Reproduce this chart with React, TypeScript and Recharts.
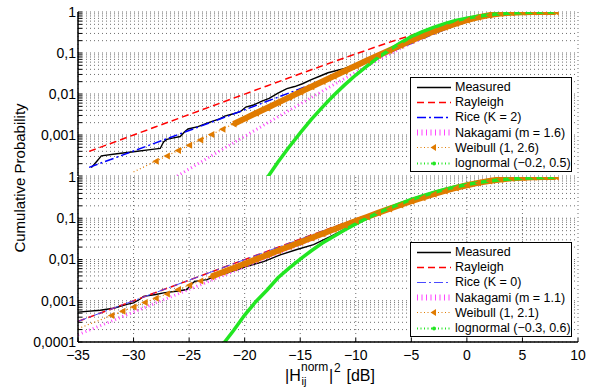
import React from 'react';
import { LineChart, Line, XAxis, YAxis, CartesianGrid, Legend } from 'recharts';

const FONT = '"Liberation Sans", Arial, Helvetica, sans-serif';

// axes
const xTicks = [-35, -30, -25, -20, -15, -10, -5, 0, 5, 10];
const yDecades = [0.0001, 0.001, 0.01, 0.1];
const yTicks = [
  ...yDecades.flatMap((d) => [1, 2, 3, 4, 5, 6, 7, 8, 9].map((m) => Number((m * d).toPrecision(3)))),
  1,
];

// ---- upper panel ----
const topMeasuredDb = [-33.8, -33.3, -32.9, -31.5, -30, -28.5, -27.6, -27.3, -27.0, -26.5, -25.8, -25.4, -25.1, -24.2, -23.5, -22.8, -22.2, -21.8, -21.0, -20.4, -19.9, -19.2, -18.5, -17.8, -17.0, -16.2, -15.5, -14.8, -14.0, -13.2, -12.5, -11.8, -11.0, -10.3, -9.6, -8.8, -8, -7, -6, -5, -4, -3, -2, -1, 0, 1, 2, 3, 4, 5, 6, 7, 8];
const topMeasuredP = [1.6e-4, 2.3e-4, 3.1e-4, 3.5e-4, 3.9e-4, 4.4e-4, 4.7e-4, 6.8e-4, 7.8e-4, 8.4e-4, 9.2e-4, 1.2e-3, 1.4e-3, 1.6e-3, 1.9e-3, 2.2e-3, 2.5e-3, 2.9e-3, 3.3e-3, 3.7e-3, 4.8e-3, 5.4e-3, 6.6e-3, 7.8e-3, 0.0105, 0.0135, 0.0152, 0.0178, 0.0225, 0.0275, 0.033, 0.037, 0.042, 0.05, 0.058, 0.07, 0.085, 0.11, 0.15, 0.2, 0.27, 0.35, 0.44, 0.55, 0.65, 0.75, 0.84, 0.9, 0.95, 0.98, 0.99, 0.997, 1];

const topRayleighDb = [-34, -32, -30, -28, -26, -24, -22, -20, -18, -16, -14, -12, -10, -9, -8, -7, -6, -5, -4, -3, -2, -1, 0, 1, 2, 3, 4, 5, 6, 7, 8];
const topRayleighP = [3.98e-4, 6.31e-4, 1.0e-3, 1.585e-3, 2.51e-3, 3.97e-3, 6.29e-3, 9.95e-3, 0.01572, 0.0248, 0.0391, 0.0612, 0.0952, 0.118, 0.1466, 0.1815, 0.222, 0.2711, 0.3282, 0.3934, 0.4673, 0.5491, 0.6321, 0.7161, 0.7953, 0.8647, 0.9198, 0.9578, 0.9812, 0.9933, 0.9981];

const topRiceDb = [-34, -30, -25, -20, -15, -10, -7.5, -5, -2.5, 0, 2.5, 5, 7.5, 8];
const topRiceP = [1.62e-4, 4.06e-4, 1.29e-3, 4.12e-3, 0.0134, 0.0461, 0.0881, 0.1717, 0.3304, 0.5853, 0.8569, 0.9857, 0.9995, 0.9998];

const topNakagamiDb = [-27, -26, -25, -24, -23, -22, -21, -20, -19, -18, -17, -16, -15, -14, -13, -12, -11, -10, -9, -8, -7, -6, -5, -4, -3, -2, -1, 0, 1, 2, 3, 4, 5, 6, 7, 8];
const topNakagamiP = [7.1e-5, 1.03e-4, 1.48e-4, 2.15e-4, 3.1e-4, 4.49e-4, 6.48e-4, 9.28e-4, 1.338e-3, 1.93e-3, 2.77e-3, 3.99e-3, 5.73e-3, 8.22e-3, 0.01176, 0.01678, 0.02386, 0.03383, 0.0477, 0.0668, 0.0928, 0.1278, 0.1739, 0.2331, 0.3065, 0.3949, 0.4963, 0.605, 0.7136, 0.8125, 0.893, 0.947, 0.978, 0.993, 0.998, 0.9996];

const topWeibullDb = [-30, -29, -28, -27, -26, -25, -24, -23, -22, -21, -20, -19, -18, -17, -16, -15, -14, -13, -12, -11, -10, -9, -8, -7, -6, -5, -4, -3, -2, -1, 0, 1, 2, 3, 4, 5, 6, 7, 8];
const topWeibullP = [1.26e-4, 1.7e-4, 2.29e-4, 3.09e-4, 4.17e-4, 5.62e-4, 7.59e-4, 1.023e-3, 1.38e-3, 1.86e-3, 2.51e-3, 3.39e-3, 4.57e-3, 6.15e-3, 8.28e-3, 0.01116, 0.01503, 0.0202, 0.0272, 0.0365, 0.0489, 0.0654, 0.0872, 0.1157, 0.153, 0.201, 0.261, 0.335, 0.423, 0.523, 0.632, 0.74, 0.838, 0.914, 0.964, 0.9885, 0.9976, 0.9997, 1];

const topLognormalDb = [-18, -17, -16, -15, -14, -13, -12, -11, -10, -9, -8, -7, -6, -5, -4, -3, -2, -1, 0, 1, 2, 3, 4, 5, 6, 7, 8];
const topLognormalP = [8.8e-5, 2.2e-4, 5.1e-4, 1.13e-3, 2.4e-3, 4.8e-3, 9.2e-3, 0.0167, 0.029, 0.048, 0.077, 0.118, 0.175, 0.25, 0.33, 0.42, 0.52, 0.62, 0.71, 0.79, 0.86, 0.91, 0.945, 0.97, 0.985, 0.993, 0.997];

// ---- lower panel ----
const botMeasuredDb = [-35, -33, -31.8, -30.6, -30, -29.4, -29.1, -28, -27.3, -26, -25.2, -24.8, -24.5, -23.4, -22.5, -21.6, -20.7, -19.8, -18.3, -16.8, -15.3, -13.8, -12.3, -10.8, -9.3, -7.8, -6, -4, -2, 0, 2, 4, 6, 8];
const botMeasuredP = [5.3e-4, 5.9e-4, 6.6e-4, 8.2e-4, 8.9e-4, 1.1e-3, 1.28e-3, 1.42e-3, 1.55e-3, 1.72e-3, 1.87e-3, 2.5e-3, 2.95e-3, 3.25e-3, 4.0e-3, 4.7e-3, 5.6e-3, 6.8e-3, 8.9e-3, 0.013, 0.0175, 0.023, 0.036, 0.058, 0.095, 0.145, 0.215, 0.31, 0.45, 0.62, 0.79, 0.92, 0.98, 1];

// Rice with K = 0 is the Rayleigh curve, both are drawn from these
const botRayleighDb = [-35, -34, -32, -30, -28, -26, -24, -22, -20, -18, -16, -14, -12, -10, -9, -8, -7, -6, -5, -4, -3, -2, -1, 0, 1, 2, 3, 4, 5, 6, 7, 8];
const botRayleighP = [3.16e-4, 3.98e-4, 6.31e-4, 1.0e-3, 1.585e-3, 2.51e-3, 3.97e-3, 6.29e-3, 9.95e-3, 0.01572, 0.0248, 0.0391, 0.0612, 0.0952, 0.118, 0.1466, 0.1815, 0.222, 0.2711, 0.3282, 0.3934, 0.4673, 0.5491, 0.6321, 0.7161, 0.7953, 0.8647, 0.9198, 0.9578, 0.9812, 0.9933, 0.9981];

const botNakagamiDb = [-35, -34, -32, -30, -28, -26, -24, -22, -20, -18, -16, -14, -12, -10, -8, -6, -4, -2, 0, 2, 4, 6, 8];
const botNakagamiP = [1.5e-4, 1.93e-4, 3.2e-4, 5.32e-4, 8.83e-4, 1.462e-3, 2.425e-3, 4.02e-3, 6.657e-3, 0.01101, 0.01818, 0.02991, 0.04898, 0.07959, 0.1278, 0.2015, 0.3086, 0.4532, 0.626, 0.7976, 0.9228, 0.984, 0.9988];

const botWeibullDb = [-35, -34, -33, -32, -31, -30, -29, -28, -27, -26, -25, -24, -23, -22, -21, -20, -19, -18, -17, -16, -15, -14, -13, -12, -11, -10, -9, -8, -7, -6, -5, -4, -3, -2, -1, 0, 1, 2, 3, 4, 5, 6, 7, 8];
const botWeibullP = [2.11e-4, 2.69e-4, 3.43e-4, 4.37e-4, 5.56e-4, 7.08e-4, 9.02e-4, 1.148e-3, 1.462e-3, 1.861e-3, 2.371e-3, 3.015e-3, 3.839e-3, 4.89e-3, 6.218e-3, 7.91e-3, 0.01007, 0.0128, 0.01627, 0.0207, 0.02625, 0.0333, 0.04223, 0.0535, 0.0676, 0.0852, 0.1073, 0.1346, 0.1681, 0.209, 0.258, 0.316, 0.3838, 0.4603, 0.5439, 0.632, 0.7203, 0.8025, 0.8732, 0.928, 0.9649, 0.986, 0.9956, 0.999];

const botLognormalDb = [-22, -21, -20, -19, -18, -17, -16, -15, -14, -13, -12, -11, -10, -9, -8, -7, -6, -5, -4, -3, -2, -1, 0, 1, 2, 3, 4, 5, 6, 7, 8];
const botLognormalP = [8.5e-5, 1.9e-4, 4.5e-4, 9.5e-4, 1.8e-3, 3.6e-3, 6.2e-3, 0.0102, 0.0163, 0.025, 0.036, 0.052, 0.073, 0.1, 0.135, 0.175, 0.225, 0.285, 0.35, 0.42, 0.5, 0.58, 0.66, 0.73, 0.8, 0.86, 0.9, 0.935, 0.96, 0.975, 0.985];

type Pt = { x: number; p: number };
const zip = (db: number[], p: number[]): Pt[] => db.map((x, i) => ({ x, p: p[i] }));

type Kind = 'measured' | 'rayleigh' | 'rice' | 'nakagami' | 'weibull' | 'lognormal';

interface Series {
  name: string;
  kind: Kind;
  data: Pt[];
  color?: string;
  width?: number;
  markFrom?: number;
  bandFrom?: number;
}

const ORANGE = '#e07b00';

const styles: Record<Kind, { stroke: string; strokeWidth: number; strokeDasharray?: string }> = {
  measured: { stroke: '#000000', strokeWidth: 1.4 },
  rayleigh: { stroke: '#ff0000', strokeWidth: 1.5, strokeDasharray: '7 4' },
  rice: { stroke: '#0000ff', strokeWidth: 1.5, strokeDasharray: '9 3 2 3' },
  nakagami: { stroke: '#ff44ff', strokeWidth: 3, strokeDasharray: '1 3' },
  weibull: { stroke: ORANGE, strokeWidth: 1.2, strokeDasharray: '1 2.5' },
  lognormal: { stroke: '#22e622', strokeWidth: 3.5 },
};

const topSeries: Series[] = [
  { name: 'Measured', kind: 'measured', data: zip(topMeasuredDb, topMeasuredP) },
  { name: 'Rayleigh', kind: 'rayleigh', data: zip(topRayleighDb, topRayleighP) },
  { name: 'Rice (K = 2)', kind: 'rice', data: zip(topRiceDb, topRiceP) },
  { name: 'Nakagami (m = 1.6)', kind: 'nakagami', data: zip(topNakagamiDb, topNakagamiP) },
  { name: 'Weibull (1, 2.6)', kind: 'weibull', data: zip(topWeibullDb, topWeibullP), markFrom: -28, bandFrom: -21 },
  { name: 'lognormal (\u22120.2, 0.5)', kind: 'lognormal', data: zip(topLognormalDb, topLognormalP) },
];

const bottomSeries: Series[] = [
  { name: 'Measured', kind: 'measured', data: zip(botMeasuredDb, botMeasuredP) },
  { name: 'Rayleigh', kind: 'rayleigh', data: zip(botRayleighDb, botRayleighP) },
  { name: 'Rice (K = 0)', kind: 'rice', data: zip(botRayleighDb, botRayleighP), color: '#4a4aff', width: 1 },
  { name: 'Nakagami (m = 1.1)', kind: 'nakagami', data: zip(botNakagamiDb, botNakagamiP) },
  { name: 'Weibull (1, 2.1)', kind: 'weibull', data: zip(botWeibullDb, botWeibullP), markFrom: -32, bandFrom: -23 },
  { name: 'lognormal (\u22120.3, 0.6)', kind: 'lognormal', data: zip(botLognormalDb, botLognormalP) },
];

const isDecade = (v: number) => Math.abs(Math.log10(v) - Math.round(Math.log10(v))) < 1e-6;
const yLabel = (v: number) => (isDecade(v) ? String(v).replace('.', ',') : '');
const xLabel = (v: number) => (v < 0 ? `\u2212${-v}` : String(v));

const triangle = (from: number) => (props: any) => {
  const { cx, cy, payload, index } = props;
  if (cx == null || cy == null || payload.x < from) return <g key={`t${index}`} />;
  return <path key={`t${index}`} d={`M${cx - 3.5},${cy} L${cx + 3},${cy - 3.5} L${cx + 3},${cy + 3.5} Z`} fill={ORANGE} />;
};

function Sample({ s }: { s: Series }) {
  const st = styles[s.kind];
  const stroke = s.color ?? st.stroke;
  return (
    <svg width={44} height={15} style={{ flex: 'none' }}>
      <line x1={6} x2={40} y1={7.5} y2={7.5} stroke={stroke}
        strokeWidth={s.kind === 'nakagami' ? 6 : Math.min(s.width ?? st.strokeWidth, 2)}
        strokeDasharray={s.kind === 'lognormal' ? '1 2.5' : s.kind === 'nakagami' ? '1 3.5' : st.strokeDasharray} />
      {s.kind === 'weibull' && <path d="M19.5,7.5 L25,4 L25,11 Z" fill={ORANGE} />}
      {s.kind === 'lognormal' && <circle cx={23} cy={7.5} r={2} fill={stroke} />}
    </svg>
  );
}

function LegendBox({ items }: { items: Series[] }) {
  return (
    <div style={{ width: 162, height: 95, boxSizing: 'border-box', border: '1.5px solid #000', background: '#fff', paddingTop: 2, fontFamily: FONT, fontSize: 12.5, color: '#000' }}>
      {items.map((it) => (
        <div key={it.name} style={{ display: 'flex', alignItems: 'center', height: 15.2, whiteSpace: 'nowrap' }}>
          <Sample s={it} />
          <span>{it.name}</span>
        </div>
      ))}
    </div>
  );
}

interface PanelProps {
  series: Series[];
  top: number;
  height: number;
  marginTop: number;
  xAxisHeight: number;
  legendTop: number;
  showXLabels: boolean;
  hideBottomYLabel: boolean;
}

function Panel({ series, top, height, marginTop, xAxisHeight, legendTop, showXLabels, hideBottomYLabel }: PanelProps) {
  const axisLine = { stroke: '#000', strokeWidth: 1.5 };
  const tickLine = { stroke: '#000', strokeWidth: 1 };
  return (
    <div style={{ position: 'absolute', left: 0, top }}>
      <LineChart width={589} height={height} margin={{ top: marginTop, right: 11, bottom: 0, left: 18 }}>
        <CartesianGrid stroke="#6e6e6e" strokeDasharray="1 3" strokeWidth={1} />
        <XAxis dataKey="x" type="number" domain={[-35, 10]} ticks={xTicks} interval={0} allowDataOverflow
          height={xAxisHeight} tickSize={-4} tickMargin={12} axisLine={axisLine} tickLine={tickLine}
          tick={showXLabels ? { fontSize: 14, fill: '#000' } : false} tickFormatter={xLabel} />
        <XAxis xAxisId="top" orientation="top" dataKey="x" type="number" domain={[-35, 10]} ticks={xTicks} interval={0}
          allowDataOverflow height={0} tickSize={-4} axisLine={axisLine} tickLine={tickLine} tick={false} />
        <YAxis type="number" scale="log" domain={[0.0001, 1]} ticks={yTicks} interval={0} allowDataOverflow width={60}
          tickSize={-4} tickMargin={6} axisLine={axisLine} tickLine={tickLine} tick={{ fontSize: 14, fill: '#000' }}
          tickFormatter={(v: number) => (hideBottomYLabel && v === 0.0001 ? '' : yLabel(v))} />
        <YAxis yAxisId="right" orientation="right" type="number" scale="log" domain={[0.0001, 1]} ticks={yTicks} interval={0}
          allowDataOverflow width={0} tickSize={-4} axisLine={axisLine} tickLine={tickLine} tick={false} />
        {series.flatMap((s) => {
          const st = styles[s.kind];
          const lines = [
            <Line key={s.name} data={s.data} dataKey="p" type="linear" isAnimationActive={false}
              stroke={s.color ?? st.stroke} strokeWidth={s.width ?? st.strokeWidth} strokeDasharray={st.strokeDasharray}
              dot={s.kind === 'weibull' ? triangle(s.markFrom ?? -99) : false} activeDot={false} legendType="none" />,
          ];
          if (s.kind === 'weibull' && s.bandFrom != null) {
            lines.push(
              <Line key={`${s.name}-band`} data={s.data.filter((d) => d.x >= (s.bandFrom as number))} dataKey="p" type="linear"
                isAnimationActive={false} stroke={ORANGE} strokeWidth={6} dot={false} activeDot={false} legendType="none" />
            );
          }
          return lines;
        })}
        <Legend layout="vertical" align="center" verticalAlign="middle"
          wrapperStyle={{ left: 410, top: legendTop, width: 162, height: 95 }}
          content={() => <LegendBox items={series} />} />
      </LineChart>
    </div>
  );
}

export default function App() {
  return (
    <div style={{ position: 'absolute', left: 0, top: 0, width: 589, height: 389, background: '#fff', fontFamily: FONT, overflow: 'hidden' }}>
      <Panel series={topSeries} top={0} height={176} marginTop={12} xAxisHeight={0} legendTop={76.5}
        showXLabels={false} hideBottomYLabel />
      <Panel series={bottomSeries} top={160} height={229} marginTop={17} xAxisHeight={47} legendTop={81.5}
        showXLabels hideBottomYLabel={false} />
      <svg width={589} height={389} style={{ position: 'absolute', left: 0, top: 0, pointerEvents: 'none' }}>
        <text transform="translate(25,178) rotate(-90)" textAnchor="middle" fontSize={15} fill="#000" fontFamily={FONT}>
          Cumulative Probability
        </text>
        <text fontSize={16} fill="#000" fontFamily={FONT}>
          <tspan x={285} y={381}>|H</tspan>
          <tspan x={301} y={371} fontSize={12}>norm</tspan>
          <tspan x={301.5} y={385} fontSize={11}>ij</tspan>
          <tspan x={329} y={381}>|</tspan>
          <tspan x={334} y={372} fontSize={12}>2</tspan>
          <tspan x={342} y={381}> [dB]</tspan>
        </text>
      </svg>
    </div>
  );
}
